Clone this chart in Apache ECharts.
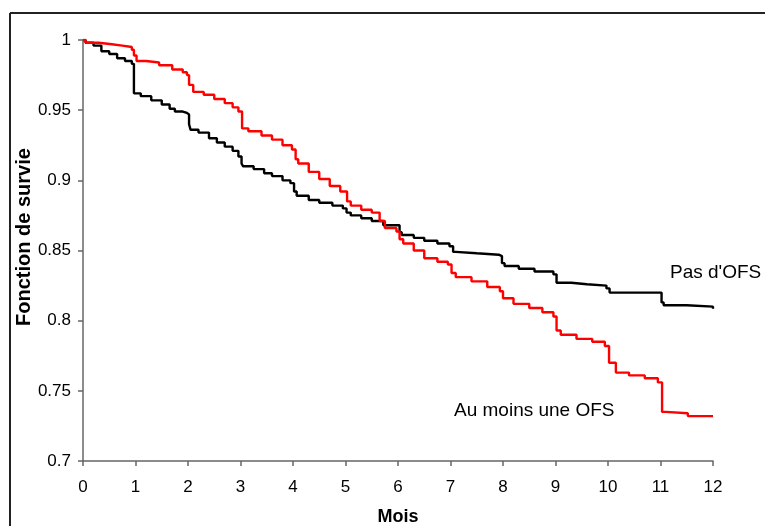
<!DOCTYPE html>
<html>
<head>
<meta charset="utf-8">
<script src="https://cdn.jsdelivr.net/npm/echarts@6/dist/echarts.min.js"></script>
<style>html,body{margin:0;padding:0;background:#fff}#c{width:765px;height:526px}</style>
</head>
<body>
<div id="c"></div>
<script>
var xTicks = [0,1,2,3,4,5,6,7,8,9,10,11,12];
var yTicks = [0.7,0.75,0.8,0.85,0.9,0.95,1];

var pasMonths = [0,0.05,0.2,0.35,0.5,0.65,0.8,0.93,0.97,1.1,1.3,1.5,1.65,1.75,1.9,1.98,2.02,2.05,2.2,2.4,2.55,2.7,2.85,2.96,3.02,3.05,3.25,3.45,3.6,3.8,3.95,4.02,4.07,4.3,4.5,4.75,4.95,5.02,5.1,5.3,5.5,5.72,6.03,6.07,6.3,6.5,6.75,6.98,7.05,7.1,7.5,7.92,7.98,8.03,8.3,8.6,8.96,9.02,9.3,9.6,9.97,10.03,11.02,11.06,11.5,12];
var pasSurv = [1,0.998,0.996,0.992,0.99,0.987,0.985,0.983,0.962,0.96,0.957,0.954,0.951,0.949,0.948,0.947,0.94,0.936,0.934,0.93,0.927,0.924,0.921,0.917,0.912,0.91,0.908,0.905,0.903,0.9,0.898,0.892,0.889,0.886,0.884,0.882,0.88,0.877,0.875,0.873,0.871,0.868,0.863,0.861,0.859,0.857,0.855,0.853,0.849,0.848,0.847,0.846,0.841,0.839,0.837,0.835,0.833,0.827,0.826,0.825,0.823,0.82,0.813,0.811,0.81,0.8085];

var ofsMonths = [0,0.05,0.3,0.55,0.75,0.93,0.97,1.02,1.2,1.45,1.7,1.9,1.98,2.02,2.1,2.3,2.5,2.7,2.85,2.96,3.03,3.15,3.4,3.6,3.8,3.98,4.05,4.1,4.3,4.5,4.7,4.9,5.03,5.1,5.3,5.5,5.65,5.75,5.97,6.03,6.1,6.3,6.5,6.75,6.95,7.02,7.1,7.4,7.7,7.94,8.0,8.2,8.5,8.75,8.96,9.02,9.1,9.4,9.7,9.94,10.02,10.15,10.4,10.7,10.95,11.03,11.1,11.52,12];
var ofsSurv = [1,0.998,0.997,0.996,0.995,0.993,0.989,0.985,0.984,0.982,0.979,0.977,0.975,0.968,0.963,0.961,0.958,0.955,0.952,0.949,0.937,0.935,0.932,0.929,0.925,0.922,0.915,0.912,0.906,0.901,0.896,0.892,0.885,0.882,0.879,0.877,0.871,0.866,0.8635,0.858,0.855,0.85,0.8445,0.842,0.84,0.834,0.831,0.828,0.824,0.821,0.816,0.812,0.809,0.806,0.803,0.793,0.79,0.787,0.785,0.782,0.77,0.763,0.761,0.759,0.756,0.735,0.734,0.732,0.7315];

var xTitle = 'Mois';
var yTitle = 'Fonction de survie';

function pairs(xs, ys){ return xs.map(function(x,i){ return [x, ys[i]]; }); }

var chart = echarts.init(document.getElementById('c'), null, {renderer:'canvas'});
var font = 'Liberation Sans, Arial, sans-serif';
chart.setOption({
  animation: false,
  backgroundColor: '#fff',
  grid: {left: 83, right: 52, top: 40, bottom: 65, containLabel: false, outerBoundsMode: 'none'},
  xAxis: {
    type: 'value', min: xTicks[0], max: xTicks[xTicks.length-1], interval: 1,
    name: xTitle, nameLocation: 'middle', nameGap: 47, nameMoveOverlap: false,
    nameTextStyle: {fontFamily: font, fontWeight: 'bold', fontSize: 18, color: '#000'},
    axisLine: {show: true, lineStyle: {color: '#666', width: 1.5}},
    axisTick: {show: true, inside: false, length: 5, lineStyle: {color: '#666', width: 1.5}},
    axisLabel: {fontFamily: font, fontSize: 17, color: '#000', margin: 18},
    splitLine: {show: false}
  },
  yAxis: {
    type: 'value', min: 0.7, max: 1, interval: 0.05,
    axisLine: {show: true, lineStyle: {color: '#666', width: 1.5}},
    axisTick: {show: true, inside: false, length: 5, lineStyle: {color: '#666', width: 1.5}},
    axisLabel: {fontFamily: font, fontSize: 17, color: '#000', margin: 12,
      formatter: function(v){ return String(+v.toFixed(2)); }},
    splitLine: {show: false}
  },
  series: [
    {name: "Pas d'OFS", type: 'line', step: 'end', symbol: 'none', data: pairs(pasMonths, pasSurv),
     lineStyle: {color: '#000', width: 2.4}},
    {name: 'Au moins une OFS', type: 'line', step: 'end', symbol: 'none', data: pairs(ofsMonths, ofsSurv),
     lineStyle: {color: '#ff0000', width: 2.4}}
  ],
  graphic: [
    {type: 'line', shape: {x1: 10, y1: 13, x2: 765, y2: 13}, style: {stroke: '#222', lineWidth: 2}},
    {type: 'line', shape: {x1: 10, y1: 13, x2: 10, y2: 526}, style: {stroke: '#222', lineWidth: 2}},
    {type: 'text', x: 24, y: 237, rotation: Math.PI / 2,
     style: {text: yTitle, font: 'bold 20px ' + font, fill: '#000', align: 'center', verticalAlign: 'middle'}},
    {type: 'text', left: 670, top: 263, style: {text: "Pas d'OFS", font: '19px ' + font, fill: '#000'}},
    {type: 'text', left: 454, top: 401, style: {text: 'Au moins une OFS', font: '19px ' + font, fill: '#000'}}
  ]
});
</script>
</body>
</html>
